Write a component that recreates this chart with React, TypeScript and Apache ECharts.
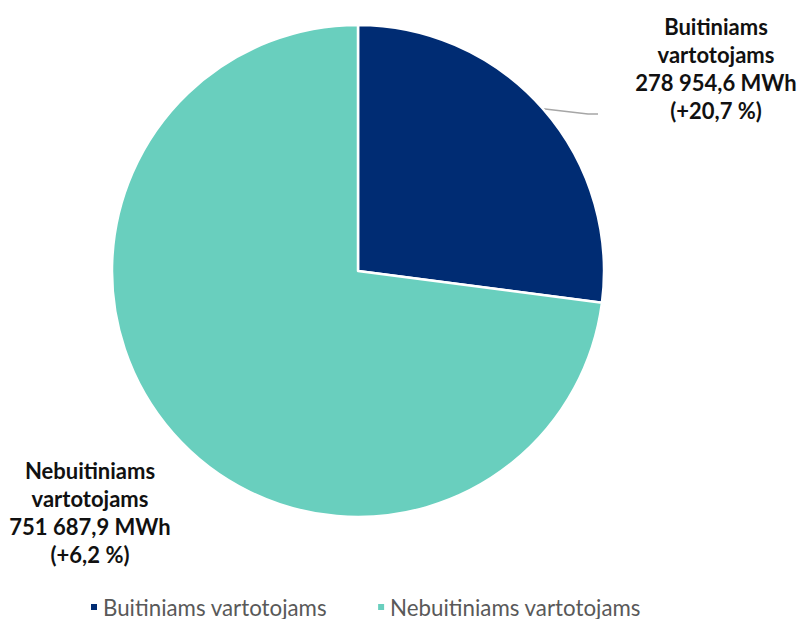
import React, { useEffect, useRef } from "react";
import * as echarts from "echarts";

const categories = ["Buitiniams vartotojams", "Nebuitiniams vartotojams"];
const labelNames = ["Buitiniams\nvartotojams", "Nebuitiniams\nvartotojams"];
const values = [278954.6, 751687.9];
const changes = ["+20,7 %", "+6,2 %"];
const colors = ["#002C73", "#69CFBE"];

function fmt(v: number): string {
  const [i, d] = v.toFixed(1).split(".");
  return i.replace(/\B(?=(\d{3})+(?!\d))/g, " ") + "," + d;
}

export default function App() {
  const ref = useRef<HTMLDivElement>(null);
  useEffect(() => {
    document.body.style.margin = "0";
    const chart = echarts.init(ref.current!, null, { renderer: "svg" });
    const font = "Lato, 'Open Sans', sans-serif";
    chart.setOption({
      animation: false,
      color: colors,
      legend: {
        top: 591,
        left: 84,
        icon: "rect",
        itemWidth: 8,
        itemHeight: 8,
        itemGap: 49,
        textStyle: { color: "#595959", fontSize: 22.3, fontFamily: font },
        data: categories,
      },
      series: [
        {
          type: "pie",
          center: [358, 271],
          radius: 246,
          startAngle: 90,
          clockwise: true,
          itemStyle: { borderColor: "#ffffff", borderWidth: 2.5 },
          label: {
            show: true,
            position: "outside",
            fontFamily: font,
            fontWeight: "bold",
            fontSize: 22,
            lineHeight: 28,
            color: "#111111",
            align: "center",
            overflow: "none",
            rich: { s: { fontSize: 10, lineHeight: 92 } },
          },
          labelLine: {
            show: true,
            length: 10,
            length2: 10,
            lineStyle: { color: "#A6A6A6", width: 1.5 },
          },
          labelLayout: (params: any) => {
            if (params.dataIndex === 0) {
              return { x: 716, y: 114, align: "center", verticalAlign: "middle" };
            }
            return { x: 90, y: 512, align: "center", verticalAlign: "middle" };
          },
          data: categories.map((c, i) => ({
            name: c,
            value: values[i],
            label: {
              formatter:
                `${labelNames[i]}\n${fmt(values[i])} MWh\n(${changes[i]})` +
                (i === 0 ? "\n{s| }" : ""),
              width: i === 0 ? 236 : 170,
            },
            labelLine: { show: i === 0 },
          })),
        },
      ],
    });
    return () => chart.dispose();
  }, []);
  return <div ref={ref} style={{ width: 798, height: 619 }} />;
}
